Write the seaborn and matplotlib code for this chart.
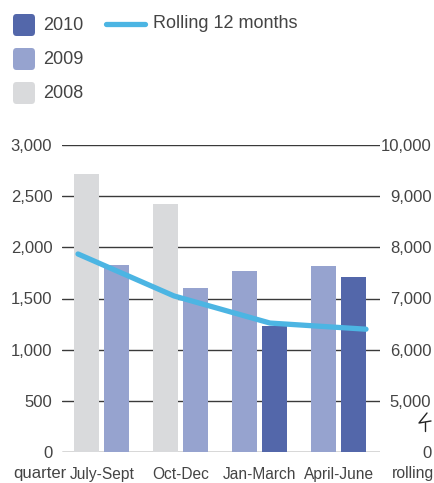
import pandas as pd
import seaborn as sns
import matplotlib.pyplot as plt
from matplotlib.patches import FancyBboxPatch
from matplotlib.lines import Line2D

# data
quarters = ['July-Sept', 'Oct-Dec', 'Jan-March', 'April-June']
prev_years = [2008, 2008, 2009, 2009]
prev_values = [2720, 2420, 1770, 1820]
curr_years = [2009, 2009, 2010, 2010]
curr_values = [1830, 1600, 1230, 1710]
rolling_12m = [7870, 7050, 6520, 6400]
left_ticks = [0, 500, 1000, 1500, 2000, 2500, 3000]
right_ticks = [4000, 5000, 6000, 7000, 8000, 9000, 10000]
right_labels = ['0', '5,000', '6,000', '7,000', '8,000', '9,000', '10,000']
legend_years = [2010, 2009, 2008]

year_colors = {2010: '#5367aa', 2009: '#96a3cf', 2008: '#d9dadc'}
line_color = '#4cb5e3'
txt = '#444444'

W, H = 435, 483

df = pd.DataFrame({
    'quarter': quarters * 2,
    'slot': ['prev'] * 4 + ['curr'] * 4,
    'year': prev_years + curr_years,
    'value': prev_values + curr_values,
})

sns.set_style('white')
plt.rcParams['font.family'] = ['Liberation Sans', 'DejaVu Sans']

fig = plt.figure(figsize=(W / 100, H / 100), dpi=100)


def fx(x):
    return x / W


def fy(y):
    return 1 - y / H


ax = fig.add_axes([fx(62), fy(452), fx(380) - fx(62), fy(145) - fy(452)])
sns.barplot(data=df, x='quarter', y='value', hue='slot', hue_order=['prev', 'curr'],
            order=quarters, width=0.76, gap=0.17, legend=False, ax=ax)

# recolour every bar by its year
for cont, slot in zip(ax.containers, ['prev', 'curr']):
    sub = df[df['slot'] == slot].set_index('quarter').loc[quarters]
    for bar, yr in zip(cont, sub['year']):
        bar.set_facecolor(year_colors[yr])
        bar.set_edgecolor('none')

ax.set_xlim(-0.505, 3.52)
ax.set_ylim(0, 3000)
ax.set_yticks(left_ticks)
ax.set_yticklabels([f'{v:,}' for v in left_ticks])
ax.yaxis.grid(True, color='#3a3a3a', linewidth=1.0)
ax.set_axisbelow(True)
ax.tick_params(axis='y', length=0, pad=7, labelsize=12, labelcolor=txt)
ax.tick_params(axis='x', length=0, pad=11, labelsize=11.2, labelcolor=txt)
ax.set_xlabel('')
ax.set_ylabel('')
for s in ax.spines.values():
    s.set_visible(False)

# rolling 12 months on its own overlay axis
ax2 = fig.add_axes(ax.get_position(), frameon=False)
sns.lineplot(x=list(range(len(rolling_12m))), y=rolling_12m, ax=ax2,
             color=line_color, linewidth=3.8, solid_capstyle='round')
ax2.set_xlim(-16 / 96, 3 + 14 / 96)
ax2.set_ylim(4000, 10000)
ax2.set_xticks([])
ax2.yaxis.tick_right()
ax2.set_yticks(right_ticks)
ax2.set_yticklabels(right_labels, ha='right')
ax2.tick_params(axis='y', length=0, pad=37, labelsize=12, labelcolor=txt)
ax2.patch.set_visible(False)

# axis captions
fig.text(fx(13), fy(478), 'quarter', fontsize=12, color=txt, ha='left', va='baseline')
fig.text(fx(392), fy(478), 'rolling', fontsize=11.3, color=txt, ha='left', va='baseline')

# axis break mark on the right scale
fig.add_artist(Line2D([fx(427), fx(419), fx(431)], [fy(413), fy(423), fy(421)],
                      color='#222222', linewidth=1.0))
fig.add_artist(Line2D([fx(425), fx(425)], [fy(422), fy(431)],
                      color='#222222', linewidth=1.0))

# legend
for i, yr in enumerate(legend_years):
    yc = 25 + i * 34
    box = FancyBboxPatch((fx(13), fy(yc + 11)), fx(22), fy(yc - 11) - fy(yc + 11),
                         boxstyle='round,pad=0,rounding_size=0.008',
                         transform=fig.transFigure, facecolor=year_colors[yr],
                         edgecolor='none')
    fig.add_artist(box)
    fig.text(fx(43), fy(yc + 1), str(yr), fontsize=13, color=txt, ha='left', va='center')

fig.add_artist(Line2D([fx(106), fx(145)], [fy(24), fy(24)], color=line_color,
                      linewidth=3.8, solid_capstyle='round'))
fig.text(fx(153), fy(23), 'Rolling 12 months', fontsize=13, color=txt, ha='left', va='center')

fig.savefig('out.png', dpi=100)
